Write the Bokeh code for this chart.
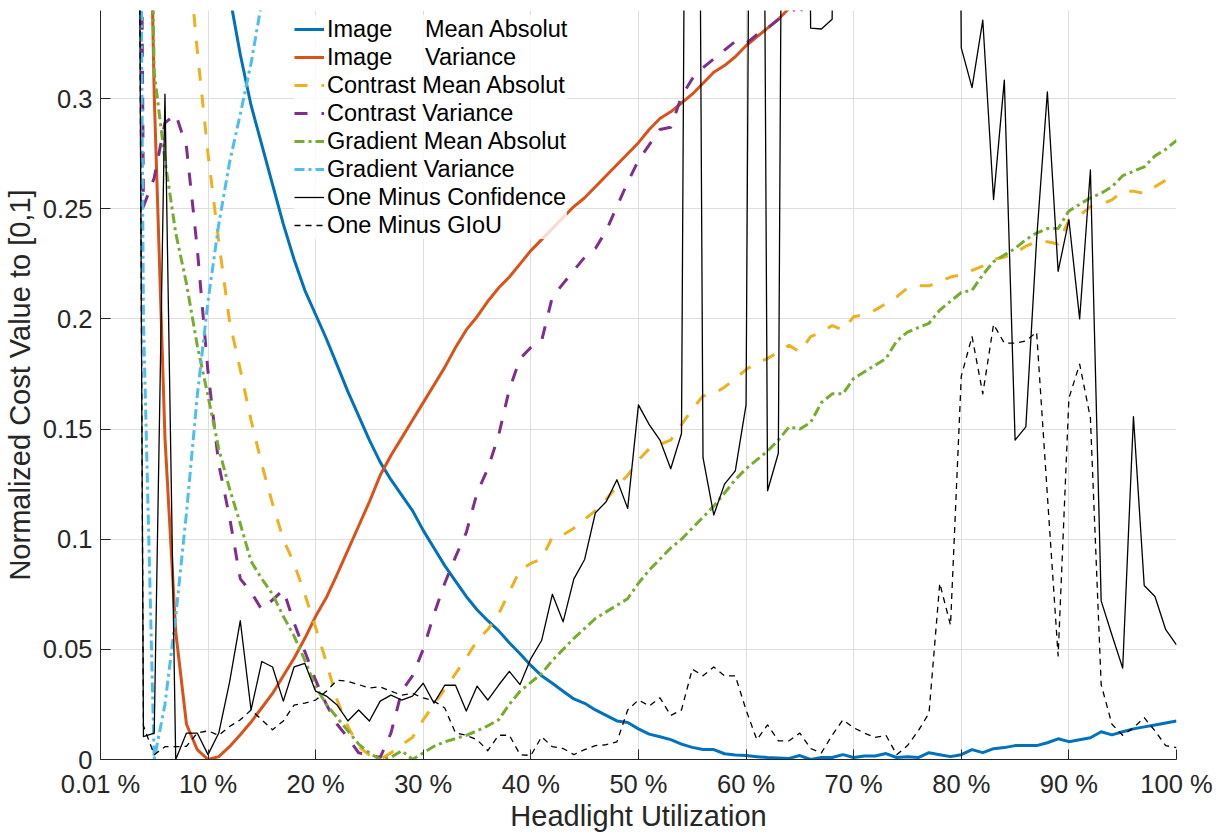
import numpy as np
from bokeh.plotting import figure
from bokeh.models import (Range1d, FixedTicker, CustomJSTickFormatter, Legend,
                          LegendItem)
from bokeh.embed import file_html
from bokeh.resources import INLINE

NA = float("nan")

# Headlight utilization in percent (first sample at 0.01 %)
utilization = [0.01] + list(range(1, 101))

image_mean_abs = [NA,
    NA, NA, NA, NA, NA, NA, NA, NA, NA, NA,
    0.380, 0.347, 0.320, 0.297, 0.279, 0.261, 0.243, 0.227, 0.213, 0.202,
    0.191, 0.179, 0.167, 0.156, 0.145, 0.135, 0.127, 0.120, 0.113, 0.104,
    0.096, 0.088, 0.081, 0.074, 0.068, 0.063, 0.0585, 0.053, 0.048, 0.0427,
    0.038, 0.0346, 0.031, 0.0275, 0.0255, 0.0225, 0.020, 0.0175, 0.0168, 0.0139,
    0.0115, 0.0103, 0.009, 0.007, 0.0055, 0.0045, 0.0045, 0.0026, 0.002, 0.0018,
    0.0013, 0.0009, 0.0007, 0.0005, 0.0018, 0.0, 0.0009, 0.0009, 0.0022, 0.0009,
    0.0016, 0.0016, 0.0027, 0.0009, 0.0013, 0.0009, 0.0031, 0.0022, 0.0013, 0.0022,
    0.0045, 0.0031, 0.0049, 0.0054, 0.0063, 0.0063, 0.0063, 0.0076, 0.0094, 0.0081,
    0.0090, 0.0099, 0.0126, 0.0112, 0.0126, 0.0139, 0.0148, 0.0157, 0.0166, 0.0175]

image_var = [NA,
    NA, NA, NA, 0.55, 0.302, 0.146, 0.058, 0.016, 0.0045, 0.0,
    0.0013, 0.0058, 0.0112, 0.017, 0.0235, 0.030, 0.038, 0.046, 0.055, 0.065,
    0.0735, 0.084, 0.095, 0.106, 0.117, 0.129, 0.138, 0.146, 0.154, 0.162,
    0.170, 0.178, 0.187, 0.195, 0.201, 0.208, 0.214, 0.219, 0.225, 0.231,
    0.236, 0.241, 0.246, 0.251, 0.255, 0.260, 0.265, 0.270, 0.275, 0.280,
    0.286, 0.291, 0.294, 0.298, 0.302, 0.307, 0.312, 0.315, 0.319, 0.324,
    0.328, 0.332, 0.336, 0.341, 0.346, NA, NA, NA, NA, NA,
    NA, NA, NA, NA, NA, NA, NA, NA, NA, NA,
    NA, NA, NA, NA, NA, NA, NA, NA, NA, NA,
    NA, NA, NA, NA, NA, NA, NA, NA, NA, NA]

contrast_mean_abs = [NA,
    NA, NA, NA, NA, NA, NA, NA, 0.375, 0.322, 0.275,
    0.235, 0.199, 0.177, 0.154, 0.134, 0.116, 0.100, 0.089, 0.075, 0.060,
    0.044, 0.027, 0.015, 0.006, 0.002, 0.0, 0.003, 0.0067, 0.010, 0.018,
    0.025, 0.032, 0.039, 0.046, 0.054, 0.059, 0.066, 0.076, 0.086, 0.089,
    0.091, 0.101, 0.102, 0.105, 0.109, 0.113, 0.118, 0.124, 0.129, 0.136,
    0.141, 0.143, 0.145, 0.152, 0.159, 0.165, 0.166, 0.169, 0.173, 0.177,
    0.180, 0.182, 0.185, 0.188, 0.185, 0.192, 0.194, 0.197, 0.195, 0.201,
    0.202, 0.204, 0.207, 0.210, 0.214, 0.215, 0.215, 0.217, 0.219, 0.220,
    0.222, 0.224, 0.227, 0.228, 0.230, 0.233, 0.235, 0.235, 0.234, 0.245,
    0.247, 0.251, 0.252, 0.254, 0.258, 0.258, 0.257, 0.260, 0.263, 0.265]

contrast_var = [NA,
    NA, NA, 0.95, 0.251, 0.264, 0.289, 0.293, 0.278, 0.232, 0.176,
    0.134, 0.110, 0.082, 0.076, 0.068, 0.0725, 0.077, 0.062, 0.049, 0.036,
    0.025, 0.016, 0.0099, 0.003, 0.0022, 0.0009, 0.012, 0.031, 0.038, 0.050,
    0.066, 0.080, 0.092, 0.103, 0.121, 0.132, 0.147, 0.168, 0.182, 0.187,
    0.190, 0.210, 0.216, 0.222, 0.228, 0.232, 0.240, 0.251, 0.262, 0.272,
    0.279, 0.286, 0.287, 0.301, 0.309, 0.314, 0.318, 0.322, 0.326, 0.325,
    0.329, 0.332, 0.336, 0.343, 0.337, 0.360, NA, NA, NA, NA,
    NA, NA, NA, NA, NA, NA, NA, NA, NA, NA,
    NA, NA, NA, NA, NA, NA, NA, NA, NA, NA,
    NA, NA, NA, NA, NA, NA, NA, NA, NA, NA]

gradient_mean_abs = [NA,
    NA, NA, NA, 0.60, 0.312, 0.272, 0.239, 0.216, 0.188, 0.165,
    0.141, 0.123, 0.107, 0.090, 0.082, 0.075, 0.065, 0.056, 0.045, 0.033,
    0.025, 0.019, 0.013, 0.007, 0.003, 0.0, 0.001, 0.004, 0.0, 0.003,
    0.006, 0.008, 0.0095, 0.011, 0.013, 0.0153, 0.018, 0.025, 0.031, 0.035,
    0.039, 0.045, 0.050, 0.055, 0.0595, 0.064, 0.067, 0.070, 0.073, 0.080,
    0.086, 0.091, 0.096, 0.100, 0.105, 0.110, 0.115, 0.121, 0.127, 0.132,
    0.136, 0.140, 0.145, 0.151, 0.150, 0.153, 0.162, 0.166, 0.166, 0.173,
    0.176, 0.179, 0.182, 0.190, 0.194, 0.196, 0.198, 0.204, 0.208, 0.212,
    0.213, 0.220, 0.226, 0.229, 0.232, 0.236, 0.239, 0.241, 0.241, 0.249,
    0.252, 0.255, 0.257, 0.260, 0.265, 0.267, 0.269, 0.274, 0.277, 0.281]

gradient_var = [NA,
    NA, NA, 0.95, 0.20, 0.0, 0.025, 0.065, 0.112, 0.165, 0.208,
    0.243, 0.271, 0.293, 0.316, 0.344, 0.370, NA, NA, NA, NA,
    NA, NA, NA, NA, NA, NA, NA, NA, NA, NA,
    NA, NA, NA, NA, NA, NA, NA, NA, NA, NA,
    NA, NA, NA, NA, NA, NA, NA, NA, NA, NA,
    NA, NA, NA, NA, NA, NA, NA, NA, NA, NA,
    NA, NA, NA, NA, NA, NA, NA, NA, NA, NA,
    NA, NA, NA, NA, NA, NA, NA, NA, NA, NA,
    NA, NA, NA, NA, NA, NA, NA, NA, NA, NA,
    NA, NA, NA, NA, NA, NA, NA, NA, NA, NA]

one_minus_confidence = [NA,
    NA, NA, 1.0, 0.0104, 0.012, 0.302, 0.0, 0.012, 0.012, 0.0022,
    0.012, 0.035, 0.063, 0.0225, 0.0445, 0.042, 0.0265, 0.042, 0.0436, 0.031,
    0.0288, 0.0247, 0.0175, 0.0225, 0.0175, 0.0265, 0.0292, 0.027, 0.0288, 0.0346,
    0.0256, 0.0337, 0.0337, 0.022, 0.0333, 0.027, 0.0337, 0.040, 0.034, 0.0458,
    0.054, 0.075, 0.0625, 0.082, 0.0908, 0.112, 0.117, 0.127, 0.114, 0.161,
    0.152, 0.145, 0.132, 0.148, 1.0, 0.137, 0.111, 0.125, 0.131, 0.161,
    1.0, 0.122, 0.139, 1.0, 1.0, 0.332, 0.3316, 0.336, 1.0, NA,
    NA, NA, NA, NA, NA, NA, NA, NA, 1.0, 0.323,
    0.305, 0.3356, 0.2542, 0.3084, 0.145, 0.151, 0.236, 0.303, 0.2216, 0.245,
    0.200, 0.2676, 0.072, 0.0565, 0.0415, 0.1556, 0.079, 0.074, 0.0589, 0.052]

one_minus_giou = [NA,
    NA, NA, 1.0, 0.0153, 0.0022, 0.0058, 0.0058, 0.006, 0.012, 0.013,
    0.011, 0.015, 0.018, 0.0225, 0.018, 0.0135, 0.0175, 0.0247, 0.0256, 0.027,
    0.031, 0.036, 0.0355, 0.034, 0.0325, 0.033, 0.031, 0.0292, 0.030, 0.028,
    0.0265, 0.0234, 0.012, 0.011, 0.009, 0.004, 0.011, 0.011, 0.0022, 0.0018,
    0.0103, 0.0058, 0.005, 0.0022, 0.0045, 0.0063, 0.0067, 0.008, 0.0225, 0.027,
    0.0243, 0.028, 0.020, 0.0225, 0.041, 0.038, 0.042, 0.038, 0.038, 0.0225,
    0.009, 0.0157, 0.0085, 0.0085, 0.012, 0.005, 0.003, 0.011, 0.018, 0.0144,
    0.012, 0.010, 0.011, 0.0022, 0.0063, 0.013, 0.021, 0.080, 0.061, 0.174,
    0.192, 0.166, 0.1975, 0.189, 0.189, 0.190, 0.194, 0.12, 0.047, 0.164,
    0.1795, 0.155, 0.034, 0.016, 0.011, 0.0144, 0.019, 0.013, 0.0063, 0.0054]

legend_labels = [
    "Image\u00a0\u00a0\u00a0\u00a0\u00a0Mean Absolut",
    "Image\u00a0\u00a0\u00a0\u00a0\u00a0Variance",
    "Contrast Mean Absolut",
    "Contrast Variance",
    "Gradient Mean Absolut",
    "Gradient Variance",
    "One Minus Confidence",
    "One Minus GIoU",
]

x_ticks = [0.01, 10, 20, 30, 40, 50, 60, 70, 80, 90, 100]
x_tick_labels = ["0.01 %", "10 %", "20 %", "30 %", "40 %", "50 %", "60 %",
                 "70 %", "80 %", "90 %", "100 %"]
y_ticks = [0, 0.05, 0.1, 0.15, 0.2, 0.25, 0.3]
y_tick_labels = ["0", "0.05", "0.1", "0.15", "0.2", "0.25", "0.3"]

series = [image_mean_abs, image_var, contrast_mean_abs, contrast_var,
          gradient_mean_abs, gradient_var, one_minus_confidence, one_minus_giou]
styles = [
    dict(line_color="#0072BD", line_width=3, line_dash="solid"),
    dict(line_color="#D95319", line_width=3, line_dash="solid"),
    dict(line_color="#EDB120", line_width=3, line_dash="13 14"),
    dict(line_color="#7E2F8E", line_width=3, line_dash="13 14"),
    dict(line_color="#77AC30", line_width=3, line_dash="10 4 3 4"),
    dict(line_color="#4DBEEE", line_width=3, line_dash="10 4 3 4"),
    dict(line_color="#000000", line_width=1.3, line_dash="solid"),
    dict(line_color="#000000", line_width=1.3, line_dash="6 5"),
]

FONT = "Liberation Sans"
X0, X1 = 0.01, 100
Y0, Y1 = 0, 0.34

p = figure(width=1223, height=834, output_backend="svg", toolbar_location=None,
           x_range=Range1d(X0, X1), y_range=Range1d(Y0, Y1),
           min_border_left=100, min_border_right=47, min_border_top=10,
           min_border_bottom=72)
p.outline_line_color = None
p.background_fill_color = "white"
p.border_fill_color = "white"

xt = FixedTicker(ticks=x_ticks)
yt = FixedTicker(ticks=y_ticks)
p.xaxis.ticker = xt
p.yaxis.ticker = yt
p.xgrid.ticker = xt
p.ygrid.ticker = yt

fmt_code = """
let best = 0;
for (let k = 0; k < tvals.length; k++) {
  if (Math.abs(tvals[k] - tick) < Math.abs(tvals[best] - tick)) best = k;
}
return tlabs[best];
"""
p.xaxis.formatter = CustomJSTickFormatter(args=dict(tvals=x_ticks, tlabs=x_tick_labels), code=fmt_code)
p.yaxis.formatter = CustomJSTickFormatter(args=dict(tvals=y_ticks, tlabs=y_tick_labels), code=fmt_code)

for ax in (p.xaxis[0], p.yaxis[0]):
    ax.axis_line_color = "#262626"
    ax.axis_line_width = 1
    ax.major_tick_line_color = "#262626"
    ax.major_tick_in = 10
    ax.major_tick_out = 0
    ax.minor_tick_line_color = None
    ax.major_label_text_font = FONT
    ax.major_label_text_font_size = "25.5px"
    ax.major_label_text_color = "#262626"
    ax.axis_label_text_font = FONT
    ax.axis_label_text_font_size = "29px"
    ax.axis_label_text_font_style = "normal"
    ax.axis_label_text_color = "#262626"
p.yaxis.major_label_standoff = 8
p.xaxis.major_label_standoff = 10
p.xaxis.axis_label = "Headlight Utilization"
p.yaxis.axis_label = "Normalized Cost Value to [0,1]"
p.xaxis.axis_label_standoff = -1
p.yaxis.axis_label_standoff = 4

for g in (p.xgrid[0], p.ygrid[0]):
    g.grid_line_color = "#dedede"
    g.grid_line_width = 1

renderers = []
for ys, st in zip(series, styles):
    r = p.line(np.array(utilization, dtype=float), np.array(ys, dtype=float),
               line_join="round", **st)
    renderers.append(r)

legend = Legend(items=[LegendItem(label=lab, renderers=[r])
                       for lab, r in zip(legend_labels, renderers)],
                location=(194, 520), orientation="vertical",
                padding=7, margin=0, spacing=0,
                glyph_width=30, glyph_height=28, label_height=28,
                label_standoff=3,
                label_text_font=FONT, label_text_font_size="23.5px",
                label_text_color="#000000",
                background_fill_color="white", background_fill_alpha=0.8,
                border_line_color=None)
p.add_layout(legend)

open("out.html", "w").write(file_html(p, INLINE))
